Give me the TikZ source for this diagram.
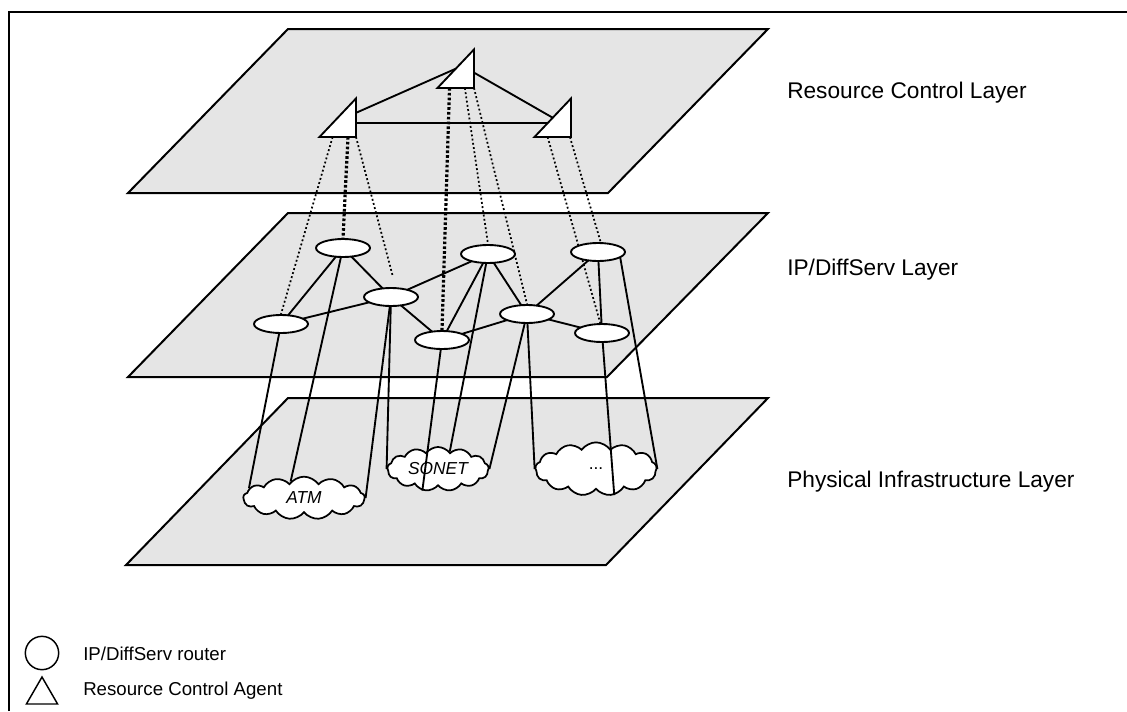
\documentclass[tikz,border=0pt]{standalone}
\usepackage{fontspec}
\setmainfont{Liberation Sans}
\usetikzlibrary{shapes.geometric,shapes.symbols,calc}
\definecolor{layergray}{RGB}{229,229,229}
\pgfdeclarelayer{bg}
\pgfdeclarelayer{lines}
\pgfsetlayers{bg,lines,main}
\begin{document}
\begin{tikzpicture}[x=0.75pt,y=-0.75pt,
  layer/.style={fill=layergray,draw=black,line width=1.5pt,line join=miter},
  link/.style={line width=1.4pt},
  dlink/.style={line width=1.3pt,dash pattern=on 1.4pt off 1.8pt},
  tdlink/.style={line width=2.4pt,dash pattern=on 2pt off 1.6pt},
  router/.style={ellipse,draw,fill=white,line width=1.4pt,minimum width=40.5pt,minimum height=13.5pt,inner sep=0pt},
  net/.style={cloud,draw,fill=white,line width=1.3pt,cloud puffs=13,cloud puff arc=110,cloud ignores aspect,inner sep=0pt,font=\itshape\fontsize{13}{15}\selectfont},
  agentbox/.style={rectangle,minimum width=27pt,minimum height=28.5pt,inner sep=0pt},
  agent/.style={draw,fill=white,line width=1.4pt,line join=miter},
  lbl/.style={anchor=west,font=\fontsize{17}{20}\selectfont,inner sep=0pt},
  lgd/.style={anchor=west,font=\fontsize{14}{17}\selectfont,inner sep=0pt}]
\useasboundingbox (0,0) rectangle (1127,711);
\begin{pgfonlayer}{bg}
\fill[white] (0,0) rectangle (1127,711);
\draw[line width=1.6pt] (9,711) -- (9,12) -- (1127,12);
\draw[layer] (288,29) -- (768,29) -- (608,193) -- (128,193) -- cycle;
\draw[layer] (288,213) -- (768,213) -- (607,377) -- (128,377) -- cycle;
\draw[layer] (288,398) -- (768,398) -- (606,565) -- (126,565) -- cycle;
\node[net,minimum width=91pt,minimum height=32pt] (atm) at (304,498) {ATM};
\node[net,minimum width=76pt,minimum height=33pt] (sonet) at (438,469) {SONET};
\node[net,minimum width=91pt,minimum height=40pt] (dots) at (596,469) {\upshape ...};
\end{pgfonlayer}

% agents
\node[agentbox,anchor=south east] (t1) at (356,137) {};
\node[agentbox,anchor=south east] (t2) at (474,88) {};
\node[agentbox,anchor=south east] (t3) at (571,137) {};
\foreach \t in {t1,t2,t3}{
  \draw[agent] (\t.south west) -- (\t.south east) -- (\t.north east) -- cycle;
}

% routers
\node[router] (e1) at (343,248) {};
\node[router] (e2) at (281,324) {};
\node[router] (e3) at (391,297) {};
\node[router] (e4) at (442,340) {};
\node[router] (e5) at (488,254) {};
\node[router] (e6) at (527,314) {};
\node[router] (e7) at (598,252) {};
\node[router] (e8) at (602,333) {};

\begin{pgfonlayer}{lines}
\coordinate (h1) at (t1.-17);
\draw[link] (t1.15) -- (t2.center);
\draw[link] (t2.-12) -- (t3.center);
\draw[link] (h1) -- (h1 -| t3.center);

\draw[dlink] ($(t1.south west)!0.36!(t1.south east)$) -- (e2.north);
\draw[tdlink] ($(t1.south west)!0.78!(t1.south east)$) -- (e1.north);
\draw[dlink] (t1.south east) -- ($(e3.north)+(2,-10)$);
\draw[tdlink] ($(t2.south west)!0.33!(t2.south east)$) -- (e4.north);
\draw[dlink] ($(t2.south west)!0.75!(t2.south east)$) -- (e5.north);
\draw[dlink] (t2.south east) -- (e6.north);
\draw[dlink] ($(t3.south west)!0.36!(t3.south east)$) -- (e8.100);
\draw[dlink] ($(t3.south west)!0.97!(t3.south east)$) -- (e7.75);

\foreach \a/\b in {e1/e2,e1/e3,e2/e3,e3/e5,e3/e4,e5/e4,e5/e6,e4/e6,e6/e7,e6/e8,e7/e8}{
  \draw[link] (\a.center) -- (\b.center);
}

\draw[link] (e2.center) -- (atm.170);
\draw[link] (e1.center) -- (atm.129);
\draw[link] (e3.center) -- (atm.east);
\draw[link] (e3.center) -- (sonet.west);
\draw[link] (e4.center) -- (sonet.234);
\draw[link] (e5.center) -- (sonet.56);
\draw[link] (e6.center) -- (sonet.east);
\draw[link] (e6.center) -- (dots.west);
\draw[link] (e8.center) -- (dots.305);
\draw[link] (e7.-15) -- (dots.east);
\end{pgfonlayer}

% layer labels
\node[lbl] (lab1) at (787,93) {Resource Control Layer};
\node[lbl] (lab2) at (787,270) {IP/DiffServ Layer};
\node[lbl] (lab3) at (787,482) {Physical Infrastructure Layer};

% legend
\node[circle,draw,line width=1.1pt,minimum size=25pt,inner sep=0pt] (lc) at (42,653) {};
\node[regular polygon,regular polygon sides=3,draw,line width=1.1pt,minimum size=27pt,inner sep=0pt] (lt) at (42,695) {};
\node[lgd] (lg1) at (83,654) {IP/DiffServ router};
\node[lgd] (lg2) at (83,691) {Resource Control Agent};
\end{tikzpicture}
\end{document}
